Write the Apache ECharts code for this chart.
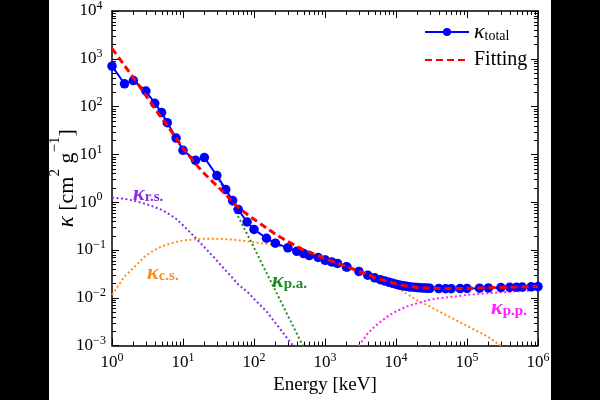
<!DOCTYPE html>
<html>
<head>
<meta charset="utf-8">
<script src="https://cdn.jsdelivr.net/npm/echarts@6/dist/echarts.min.js"></script>
<style>
  html, body { margin: 0; padding: 0; background: #fff; }
  #chart { width: 600px; height: 400px; }
</style>
</head>
<body>
<div id="chart"></div>
<script>
// measured total attenuation (keV, cm2/g)
const energy = [1, 1.5, 2, 3, 4, 5, 6, 8, 10, 15, 20, 30, 40, 50, 60, 80, 100, 150, 200, 300, 400, 500, 600, 800,
  1000, 1022, 1250, 1500, 2000, 2044, 3000, 4000, 5000, 6000, 7000, 8000, 9000, 10000, 11000, 12000, 13000, 14000,
  15000, 16000, 18000, 20000, 22000, 24000, 26000, 28000, 30000, 40000, 50000, 60000, 80000, 100000, 150000,
  200000, 300000, 400000, 500000, 600000, 800000, 1000000];
const kTotal = [700, 300, 350, 212, 117, 75, 46, 22, 12.2, 7.5, 8.6, 3.6, 1.84, 1.08, 0.70, 0.385, 0.27, 0.176, 0.139,
  0.111, 0.094, 0.084, 0.0766, 0.0697, 0.0616, 0.061, 0.056, 0.0525, 0.0445, 0.044, 0.0356, 0.0298, 0.0262, 0.024,
  0.0224, 0.0211, 0.0201, 0.0193, 0.0186, 0.0181, 0.0177, 0.0174, 0.0171, 0.0169, 0.0166, 0.0164, 0.0162, 0.0161,
  0.016, 0.0159, 0.0158, 0.0156, 0.0155, 0.0155, 0.0156, 0.0157, 0.0159, 0.0161, 0.0164, 0.0166, 0.0167, 0.0168,
  0.017, 0.0172];

// fitting curve
const fitE = [1, 1.5, 2, 3, 4, 5, 6, 8, 10, 15, 20, 30, 40, 50, 60, 80, 100, 150, 200, 300, 400, 500, 600, 800, 1000,
  1500, 2000, 3000, 4000, 5000, 6000, 8000, 10000, 15000, 20000, 30000, 40000, 60000, 100000, 200000, 400000, 1000000];
const fitK = [1650, 720, 400, 170, 92, 58, 40, 22, 13.5, 6.4, 4.0, 2.2, 1.45, 1.02, 0.78, 0.56, 0.44, 0.29, 0.215,
  0.15, 0.12, 0.1, 0.09, 0.076, 0.066, 0.053, 0.045, 0.036, 0.0305, 0.0268, 0.0245, 0.0215, 0.0196, 0.0173, 0.0165,
  0.0159, 0.0157, 0.0156, 0.0158, 0.0162, 0.0166, 0.0173];

// Rayleigh scattering
const rsE = [1, 1.5, 2, 3, 4, 5, 6, 8, 10, 15, 20, 30, 40, 50, 60, 80, 100, 150, 200, 300, 400];
const rsK = [1.25, 1.18, 1.08, 0.92, 0.79, 0.69, 0.6, 0.45, 0.33, 0.18, 0.115, 0.06, 0.037, 0.026, 0.019, 0.0135,
  0.0095, 0.0052, 0.003, 0.00137, 0.0008];

// Compton scattering
const csE = [1, 1.5, 2, 3, 4, 5, 6, 8, 10, 15, 20, 30, 40, 50, 60, 80, 100, 150, 200, 300, 400, 500, 600, 800, 1000,
  1500, 2000, 3000, 4000, 5000, 6000, 8000, 10000, 15000, 20000, 30000, 50000, 100000, 150000, 200000, 300000, 400000];
const csK = [0.0115, 0.028, 0.042, 0.077, 0.1, 0.118, 0.13, 0.148, 0.158, 0.168, 0.171, 0.171, 0.168, 0.165, 0.16,
  0.152, 0.146, 0.134, 0.125, 0.111, 0.1, 0.092, 0.085, 0.075, 0.067, 0.055, 0.047, 0.037, 0.031, 0.027, 0.024,
  0.0195, 0.0165, 0.0115, 0.0088, 0.0066, 0.0044, 0.0026, 0.0019, 0.0015, 0.001, 0.0007];

// photoabsorption
const paE = [30, 40, 50, 60, 80, 100, 150, 200, 300, 400, 500, 600];
const paK = [3.5, 1.6, 0.85, 0.5, 0.215, 0.112, 0.033, 0.0142, 0.0042, 0.0018, 0.00093, 0.00055];

// pair production
const ppE = [2500, 3000, 4000, 5000, 6000, 8000, 10000, 15000, 20000, 30000, 40000, 60000, 80000, 100000, 150000,
  200000, 300000, 500000, 800000, 1000000];
const ppK = [0.0007, 0.001, 0.0018, 0.0025, 0.0031, 0.0043, 0.0052, 0.0068, 0.0077, 0.0091, 0.0098, 0.0105, 0.011,
  0.0115, 0.0121, 0.0125, 0.013, 0.0136, 0.0143, 0.0147];

const serif = '"Liberation Serif", "DejaVu Serif", serif';
const zip = (xs, ys) => xs.map((x, i) => [x, ys[i]]);

const powLabel = v => {
  const e = Math.round(Math.log10(v));
  return '{b|10}{s|' + (e < 0 ? '\u2212' + (-e) : e) + '}';
};
const powRich = {
  b: { fontFamily: serif, fontSize: 17, lineHeight: 22, color: '#000' },
  s: { fontFamily: serif, fontSize: 12, lineHeight: 12, verticalAlign: 'top', color: '#000' }
};

const frameLine = { show: true, lineStyle: { color: '#000', width: 1.5 } };
const majorTick = { show: true, inside: true, length: 7, lineStyle: { color: '#000', width: 1 } };

const dotted = (name, data, color) => ({
  name: name, type: 'line', data: data, showSymbol: false, symbol: 'none', silent: true,
  lineStyle: { color: color, width: 2, type: [2, 2.5] }, z: 1
});

const option = {
  animation: false,
  backgroundColor: '#fff',
  grid: { left: 112, right: 62, top: 8, bottom: 49 },
  legend: {
    data: [{ name: 'total' }, { name: 'Fitting', itemStyle: { opacity: 0 } }],
    orient: 'vertical',
    left: 424, top: 21, padding: 0,
    itemWidth: 44, itemHeight: 10, itemGap: 7,
    formatter: n => n === 'total' ? '{k|κ}{sub|total}' : '{t|Fitting}',
    textStyle: {
      fontFamily: serif, fontSize: 20, color: '#000',
      rich: {
        k: { fontFamily: serif, fontStyle: 'italic', fontSize: 22, lineHeight: 22, color: '#000' },
        sub: { fontFamily: serif, fontSize: 14, lineHeight: 14, verticalAlign: 'bottom', color: '#000' },
        t: { fontFamily: serif, fontSize: 20, lineHeight: 22, color: '#000' }
      }
    }
  },
  xAxis: [{
    type: 'log', logBase: 10, min: 1, max: 1e6, interval: 1,
    name: 'Energy [keV]', nameLocation: 'middle', nameGap: 30,
    nameTextStyle: { fontFamily: serif, fontSize: 19, color: '#000' },
    axisLine: frameLine, axisTick: majorTick, splitLine: { show: false },
    axisLabel: { formatter: powLabel, rich: powRich, margin: 6 }
  }, {
    type: 'log', logBase: 10, min: 1, max: 1e6, interval: 1, position: 'top',
    axisLine: frameLine, axisTick: majorTick, splitLine: { show: false }, axisLabel: { show: false }
  }],
  yAxis: [{
    type: 'log', logBase: 10, min: 1e-3, max: 1e4, interval: 1,
    axisLine: frameLine, axisTick: majorTick, splitLine: { show: false },
    axisLabel: { formatter: powLabel, rich: powRich, margin: 21, align: 'center' }
  }, {
    type: 'log', logBase: 10, min: 1e-3, max: 1e4, interval: 1, position: 'right',
    axisLine: frameLine, axisTick: majorTick, splitLine: { show: false }, axisLabel: { show: false }
  }],
  series: [
    dotted('rs', zip(rsE, rsK), '#8a2be2'),
    dotted('cs', zip(csE, csK), '#ff8c1a'),
    dotted('pa', zip(paE, paK), '#1e8c1e'),
    dotted('pp', zip(ppE, ppK), '#ff22ff'),
    {
      name: 'total', type: 'line', data: zip(energy, kTotal),
      symbol: 'circle', symbolSize: 9.5, showSymbol: true,
      itemStyle: { color: '#0000ff' }, lineStyle: { color: '#0000ff', width: 2 }, z: 3
    },
    {
      name: 'Fitting', type: 'line', data: zip(fitE, fitK), symbol: 'none', showSymbol: false, smooth: 0.3,
      itemStyle: { color: '#ff0000' }, lineStyle: { color: '#ff0000', width: 3, type: [7, 4] }, z: 4
    }
  ]
};

const chart = echarts.init(document.getElementById('chart'));
chart.setOption(option);

// minor log ticks placed through the axis scales
const g = [];
const xL = chart.convertToPixel({ xAxisIndex: 0 }, 1);
const xR = chart.convertToPixel({ xAxisIndex: 0 }, 1e6);
const yT = chart.convertToPixel({ yAxisIndex: 0 }, 1e4);
const yB = chart.convertToPixel({ yAxisIndex: 0 }, 1e-3);
const tickStyle = { stroke: '#000', lineWidth: 1 };
for (let d = 0; d < 6; d++) {
  for (let m = 2; m <= 9; m++) {
    const x = Math.round(chart.convertToPixel({ xAxisIndex: 0 }, m * Math.pow(10, d))) + 0.5;
    g.push({ type: 'line', shape: { x1: x, y1: yB, x2: x, y2: yB - 4 }, style: tickStyle, silent: true });
    g.push({ type: 'line', shape: { x1: x, y1: yT, x2: x, y2: yT + 4 }, style: tickStyle, silent: true });
  }
}
for (let d = -3; d < 4; d++) {
  for (let m = 2; m <= 9; m++) {
    const y = Math.round(chart.convertToPixel({ yAxisIndex: 0 }, m * Math.pow(10, d))) + 0.5;
    g.push({ type: 'line', shape: { x1: xL, y1: y, x2: xL + 4, y2: y }, style: tickStyle, silent: true });
    g.push({ type: 'line', shape: { x1: xR, y1: y, x2: xR - 4, y2: y }, style: tickStyle, silent: true });
  }
}

// y axis title, rotated
g.push({
  type: 'text', x: 63, y: (yT + yB) / 2, rotation: Math.PI / 2, silent: true,
  style: {
    text: '{k|κ}{n| [cm}{sup|2}{n| g}{sup|\u22121}{n|]}',
    align: 'center', verticalAlign: 'middle', fill: '#000',
    rich: {
      k: { fontFamily: serif, fontStyle: 'italic', fontSize: 23, lineHeight: 30, verticalAlign: 'bottom', fill: '#000' },
      n: { fontFamily: serif, fontSize: 22, lineHeight: 30, verticalAlign: 'bottom', fill: '#000' },
      sup: { fontFamily: serif, fontSize: 15, lineHeight: 15, verticalAlign: 'top', fill: '#000' }
    }
  }
});

// curve annotations
const note = (left, top, sub, color) => ({
  type: 'text', left: left, top: top, silent: true,
  style: {
    text: '{k|κ}{s|' + sub + '}',
    fill: color,
    rich: {
      k: { fontFamily: serif, fontStyle: 'italic', fontWeight: 'bold', fontSize: 22, lineHeight: 22, fill: color },
      s: { fontFamily: serif, fontWeight: 'bold', fontSize: 15, lineHeight: 15, verticalAlign: 'bottom', fill: color }
    }
  }
});
g.push(note(133, 183, 'r.s.', '#8a2be2'));
g.push(note(147, 262, 'c.s.', '#ff8c1a'));
g.push(note(272, 270, 'p.a.', '#1e8c1e'));
g.push(note(491, 297, 'p.p.', '#ff22ff'));

// black side bars of the picture
g.push({ type: 'rect', shape: { x: 0, y: 0, width: 49, height: 400 }, style: { fill: '#000' }, silent: true });
g.push({ type: 'rect', shape: { x: 551, y: 0, width: 49, height: 400 }, style: { fill: '#000' }, silent: true });

chart.setOption({ graphic: g });
</script>
</body>
</html>
